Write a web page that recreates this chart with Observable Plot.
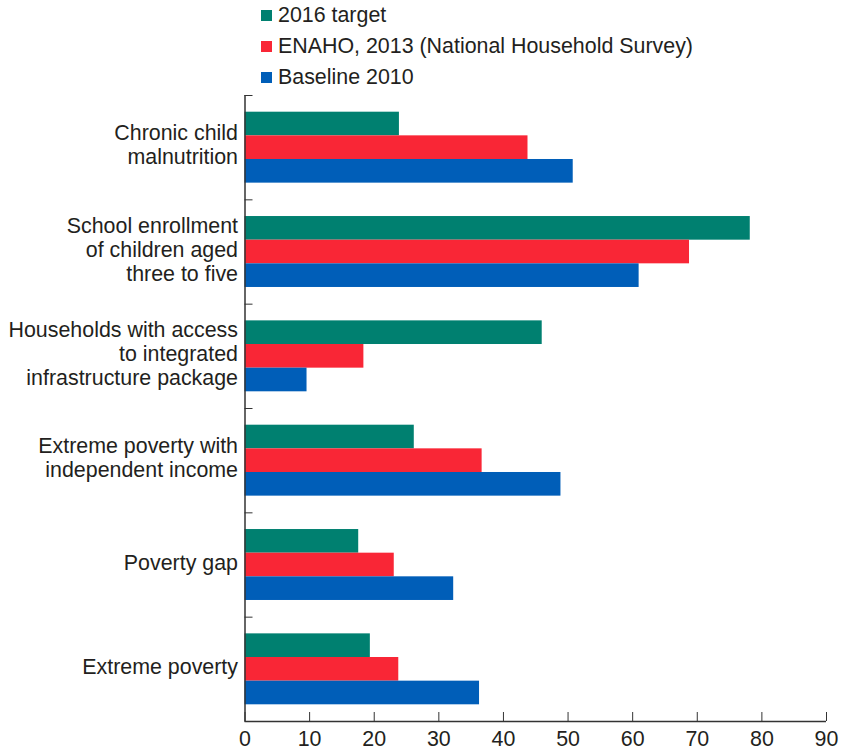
<!DOCTYPE html>
<html><head><meta charset="utf-8">
<script src="https://cdn.jsdelivr.net/npm/d3@7"></script>
<script src="https://cdn.jsdelivr.net/npm/@observablehq/plot@0.6"></script>
<style>
body{margin:0;background:#fff;font-family:"Liberation Sans",Arial,sans-serif;color:#231f20;}
#legend{height:93px;}
.row{height:31px;display:flex;align-items:center;padding-left:261px;font-size:21.4px;white-space:nowrap;}
.sw{width:11px;height:11px;margin-right:6px;flex:none;}
</style></head><body>
<div id="legend"></div>
<div id="chart"></div>
<script>
// ---- data ----
const categories = [
  "Chronic child\nmalnutrition",
  "School enrollment\nof children aged\nthree to five",
  "Households with access\nto integrated\ninfrastructure package",
  "Extreme poverty with\nindependent income",
  "Poverty gap",
  "Extreme poverty"
];
const seriesNames = ["2016 target", "ENAHO, 2013 (National Household Survey)", "Baseline 2010"];
const seriesColors = ["#008070", "#f92636", "#005eb8"];
const target2016   = [23.9, 78.2, 46.0, 26.2, 17.6, 19.4];
const enaho2013    = [43.8, 68.8, 18.4, 36.7, 23.1, 23.8];
const baseline2010 = [50.8, 61.0,  9.6, 48.9, 32.3, 36.3];
const xTicks = [0, 10, 20, 30, 40, 50, 60, 70, 80, 90];

const seriesValues = [target2016, enaho2013, baseline2010];
const rows = categories.flatMap((c, i) =>
  seriesNames.map((s, j) => ({cat: i, j, series: s, value: seriesValues[j][i]})));

// legend
const legend = document.getElementById("legend");
seriesNames.forEach((s, j) => {
  const row = document.createElement("div");
  row.className = "row";
  const sw = document.createElement("span");
  sw.className = "sw";
  sw.style.background = seriesColors[j];
  row.appendChild(sw);
  row.appendChild(document.createTextNode(s));
  legend.appendChild(row);
});

const groupPad = 0.16;
const barH = (1 - 2 * groupPad) / seriesNames.length;
const font = '"Liberation Sans", Arial, sans-serif';

const plot = Plot.plot({
  width: 842,
  height: 657,
  marginTop: 2,
  marginBottom: 29,
  marginLeft: 244.5,
  marginRight: 16,
  style: {fontFamily: font, fontSize: "21.4px", color: "#231f20", background: "white"},
  x: {domain: [0, 90]},
  y: {domain: [0, categories.length], reverse: true},
  color: {domain: seriesNames, range: seriesColors},
  marks: [
    Plot.rect(rows, {
      x1: 0, x2: "value",
      y1: d => d.cat + groupPad + d.j * barH,
      y2: d => d.cat + groupPad + (d.j + 1) * barH,
      fill: "series"
    }),
    Plot.ruleX([0], {stroke: "#333", strokeWidth: 1.5}),
    Plot.ruleY([categories.length], {stroke: "#333", strokeWidth: 1.5}),
    Plot.axisY(d3.range(categories.length + 1), {tickSize: -8, tickFormat: () => "", label: null, stroke: "#333"}),
    Plot.axisX(xTicks, {tickSize: -9, tickPadding: 18, label: null, stroke: "#333", fontSize: 21.4, fill: "#231f20"}),
    Plot.text(categories, {
      y: (d, i) => i + 0.5, text: d => d, frameAnchor: "left",
      textAnchor: "end", dx: -7, dy: -3, lineHeight: 1.12, fontSize: 21.4, fill: "#231f20"
    })
  ]
});
document.getElementById("chart").appendChild(plot);
</script>
</body></html>
